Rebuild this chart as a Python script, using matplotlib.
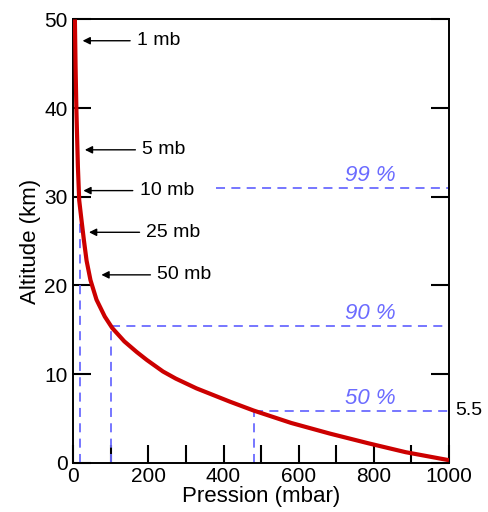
import matplotlib
matplotlib.use("Agg")
import matplotlib.pyplot as plt
from matplotlib.ticker import MultipleLocator

plt.rcParams['font.family'] = ['Liberation Sans', 'DejaVu Sans']

##########################
# DONNEES
##########################
altitude_km = [0.3, 1.2, 2.2, 3.3, 4.5, 5.9, 6.9, 8.4, 9.5, 10.3, 11.6,
               12.5, 13.7, 15.2, 16.5, 18.4, 20.6, 22.8, 25.1, 27.4,
               29.6, 33.4, 39.8, 44.7, 50]
pression_mbar = [1000, 885, 786, 683, 580, 480, 417, 328, 273, 239, 196,
                 169, 136, 104, 84, 62, 46, 35.6, 28.5, 22, 16, 12.5, 8.5,
                 6.3, 4.5]

# niveaux : part de la masse de l'atmosphere sous le niveau
niveaux_txt = ['50 %', '90 %', '99 %']
niveaux_alt = [5.9, 15.4, 31.0]
niveaux_p = [480, 100, 18]

# fleches vers la courbe
fleches_txt = ['1 mb', '5 mb', '10 mb', '25 mb', '50 mb']
fleches_alt = [47.6, 35.3, 30.7, 26.0, 21.2]

# position (mise en page)
fleches_pointe = [25, 31, 27, 42, 75]
fleches_texte = [170, 184, 177, 195, 224]
niveaux_debut = [480, 100, 380]

BLEU = '#6b6bff'

fig = plt.figure(figsize=(4.88, 5.12), dpi=100)
ax = fig.add_axes([0.150, 0.096, 0.770, 0.866])

ax.plot(pression_mbar, altitude_km, color='#cc0000', lw=3, zorder=3,
        solid_joinstyle='round', solid_capstyle='butt')

for txt, alt, p, x0 in zip(niveaux_txt, niveaux_alt, niveaux_p, niveaux_debut):
    ax.plot([x0, 1000], [alt, alt], color=BLEU, lw=1.3, dashes=(5, 3.5), zorder=2)
    ax.plot([p, p], [0, alt], color=BLEU, lw=1.3, dashes=(5, 3.5), zorder=2)
    ax.text(790, alt + 1.4, txt, color=BLEU, fontsize=16, style='italic',
            ha='center', va='center')

ax.text(1016, niveaux_alt[0], '5.5', fontsize=14, ha='left', va='center',
        clip_on=False)

for txt, alt, pt, xt in zip(fleches_txt, fleches_alt, fleches_pointe, fleches_texte):
    ax.annotate(txt, xy=(pt, alt), xytext=(xt, alt), fontsize=14,
                ha='left', va='center',
                arrowprops=dict(arrowstyle='-|>', color='black', lw=1,
                                mutation_scale=11, shrinkA=3, shrinkB=0))

ax.set_xlim(0, 1000)
ax.set_ylim(0, 50)
ax.xaxis.set_major_locator(MultipleLocator(200))
ax.xaxis.set_minor_locator(MultipleLocator(100))
ax.yaxis.set_major_locator(MultipleLocator(10))
ax.tick_params(which='both', direction='in', length=13, width=1.5,
               labelsize=15, right=True, top=False, pad=4)
ax.tick_params(axis='x', pad=3)

for s in ax.spines.values():
    s.set_linewidth(1.4)

ax.set_xlabel('Pression (mbar)', fontsize=16, labelpad=0)
ax.set_ylabel('Altitude (km)', fontsize=16, labelpad=2)

fig.savefig('out.png', dpi=100)
